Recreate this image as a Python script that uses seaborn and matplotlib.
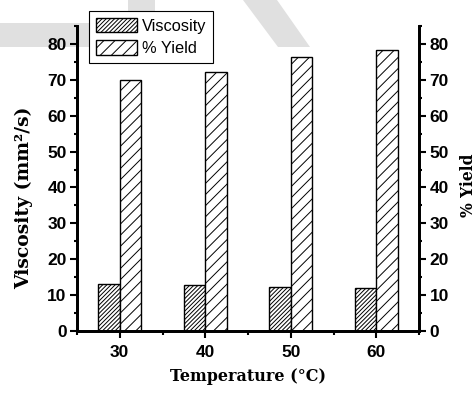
import matplotlib
matplotlib.use("Agg")
import matplotlib.pyplot as plt
import pandas as pd
import seaborn as sns
from matplotlib.patches import Polygon
from matplotlib.ticker import MultipleLocator, FixedLocator

# Data
temperatures = ["30", "40", "50", "60"]
viscosity = [13.2, 12.9, 12.2, 12.0]
yield_pct = [70.0, 72.3, 76.3, 78.3]
series_names = ["Viscosity", "% Yield"]

df = pd.DataFrame({
    "Temperature": temperatures * 2,
    "value": viscosity + yield_pct,
    "series": [series_names[0]] * len(temperatures) + [series_names[1]] * len(temperatures),
})

sns.set_style("ticks")
plt.rcParams["font.family"] = ["Liberation Sans", "DejaVu Sans"]
plt.rcParams["hatch.linewidth"] = 0.7
for key in ("text.color", "axes.labelcolor", "xtick.color", "ytick.color",
            "axes.edgecolor", "xtick.labelcolor", "ytick.labelcolor"):
    plt.rcParams[key] = "black"

W, H = 477, 394
fig = plt.figure(figsize=(W / 100, H / 100), dpi=100)
fig.patch.set_facecolor("white")


def px(x, y):
    return (x / W, 1 - y / H)


# light grey background shapes
grey = "#e0e0e0"
shapes = [
    [(0, 23), (155, 23), (155, 47), (0, 47)],
    [(128, 0), (155, 0), (155, 47), (128, 47)],
    [(243, 0), (277, 0), (310, 47), (278, 47)],
]
for pts in shapes:
    fig.patches.append(Polygon([px(*p) for p in pts], closed=True,
                               transform=fig.transFigure, facecolor=grey,
                               edgecolor="none", zorder=-1))

ax = fig.add_axes([77 / W, 1 - 331 / H, (419 - 77) / W, (331 - 26) / H])
ax.set_facecolor("none")

sns.barplot(data=df, x="Temperature", y="value", hue="series",
            palette=["white", "white"], saturation=1, edgecolor="black",
            linewidth=1, width=0.5, ax=ax, legend=False, errorbar=None)

for container, hatch in zip(ax.containers, ["////////", "///"]):
    for bar in container:
        bar.set_hatch(hatch)

ax.set_xlim(-0.5, 3.5)
ax.set_ylim(0, 85)

ax2 = ax.twinx()
ax2.set_ylim(0, 85)

tick_font = dict(family="Liberation Sans", weight="bold", size=12.5, color="black")
xlabel_font = dict(family="DejaVu Serif", weight="bold", size=11.5, color="black")
ylabel_font = dict(family="DejaVu Serif", weight="bold", size=13.5, color="black")
y2label_font = dict(family="DejaVu Serif", weight="bold", size=11.2, color="black")

for a in (ax, ax2):
    a.yaxis.set_major_locator(MultipleLocator(10))
    a.yaxis.set_minor_locator(MultipleLocator(5))
    a.spines["top"].set_visible(False)
    for s in a.spines.values():
        s.set_linewidth(2)
        s.set_color("black")
    a.tick_params(axis="y", which="major", direction="out", length=5, width=1.5,
                  pad=2.5, color="black")
    a.tick_params(axis="y", which="minor", direction="out", length=2.5, width=1.5,
                  color="black")
    a.set_yticks(range(0, 81, 10))
    a.set_yticklabels([str(v) for v in range(0, 81, 10)], fontdict=tick_font)

ax.xaxis.set_minor_locator(FixedLocator([-0.5, 0.5, 1.5, 2.5, 3.5]))
ax.tick_params(axis="x", which="major", direction="out", length=5, width=1.5,
               pad=5, color="black")
ax.tick_params(axis="x", which="minor", direction="out", length=3, width=1.5,
               color="black")
ax.set_xticks(range(len(temperatures)))
ax.set_xticklabels(temperatures, fontdict=tick_font)

ax.set_xlabel("Temperature (°C)", fontdict=xlabel_font)
ax.set_ylabel("Viscosity (mm²/s)", fontdict=ylabel_font)
ax2.set_ylabel("% Yield", fontdict=y2label_font)
ax.xaxis.set_label_coords(0.501, -0.121)
ax.yaxis.set_label_coords(-0.129, 0.438)
ax2.yaxis.set_label_coords(1.12, 0.479)

leg = ax.legend(ax.containers, series_names, loc="upper left",
                bbox_to_anchor=px(89, 11), bbox_transform=fig.transFigure,
                borderaxespad=0, frameon=True, fancybox=False, framealpha=1,
                edgecolor="black", handlelength=2.5, handleheight=0.95,
                labelspacing=0.42, borderpad=0.42, handletextpad=0.3,
                prop=dict(family="Liberation Sans", size=11.8))
leg.get_frame().set_linewidth(0.8)
for t in leg.get_texts():
    t.set_color("black")
leg.set_zorder(5)

fig.savefig("out.png", dpi=100)
